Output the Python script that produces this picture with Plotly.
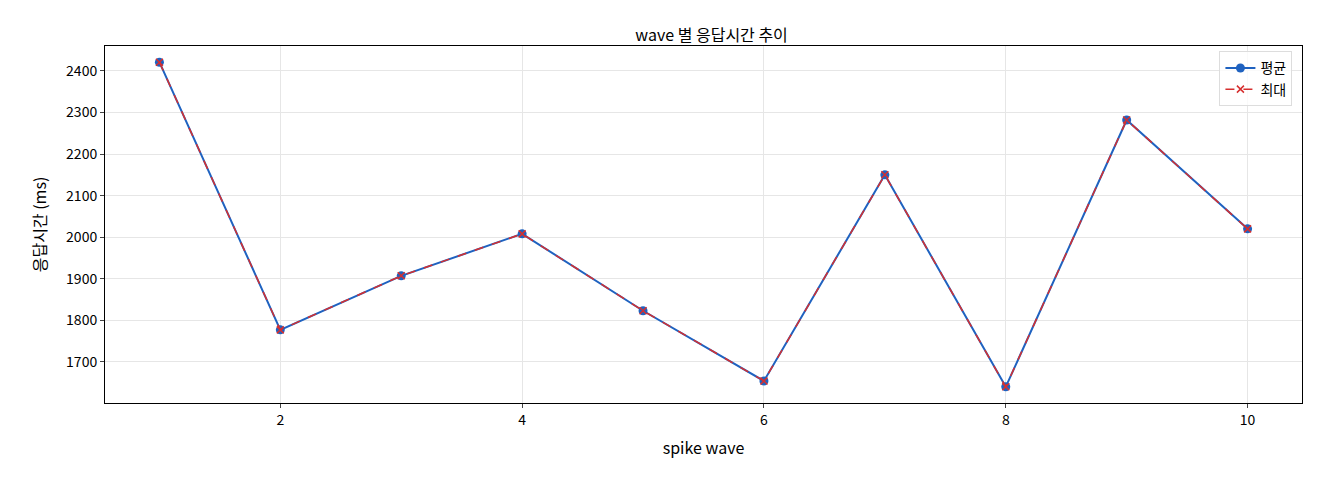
import plotly.graph_objects as go

waves = [1, 2, 3, 4, 5, 6, 7, 8, 9, 10]
avg_ms = [2421, 1777, 1907, 2008, 1823, 1654, 2150, 1640, 2282, 2020]
max_ms = [2421, 1777, 1907, 2008, 1823, 1654, 2150, 1640, 2282, 2020]
y_ticks = [1700, 1800, 1900, 2000, 2100, 2200, 2300, 2400]

fig = go.Figure()
fig.add_trace(go.Scatter(x=waves, y=avg_ms, name="평균", mode="lines+markers",
                         line=dict(color="#1f62c0", width=2),
                         marker=dict(symbol="circle", size=9, color="#1f62c0")))
fig.add_trace(go.Scatter(x=waves, y=max_ms, name="최대", mode="lines+markers",
                         line=dict(color="#d62f2f", width=1.5, dash="dash"),
                         marker=dict(symbol="x-thin", size=7, line=dict(color="#d62f2f", width=1.5))))

axis = dict(showline=True, linecolor="black", mirror=True, ticks="outside", ticklen=4,
            gridcolor="#e6e6e6", zeroline=False, tickfont=dict(size=14),
            title_font=dict(size=13))
fig.update_layout(
    width=1320, height=480,
    font=dict(family="Noto Sans CJK KR", size=13, color="black"),
    title=dict(text="wave 별 응답시간 추이", x=0.533, xanchor="center", y=0.955, font=dict(size=16)),
    plot_bgcolor="white", paper_bgcolor="white",
    margin=dict(l=97, r=26, t=38, b=85),
    xaxis=dict(axis, range=[0.55, 10.45], tickvals=[2, 4, 6, 8, 10], title="spike wave"),
    yaxis=dict(axis, range=[1601, 2460], tickvals=y_ticks, title="응답시간 (ms)"),
    legend=dict(x=0.992, y=0.985, xanchor="right", yanchor="top", bordercolor="#dddddd",
                borderwidth=1, bgcolor="rgba(255,255,255,0.8)", font=dict(size=14)),
)
fig.write_html("out.html")
